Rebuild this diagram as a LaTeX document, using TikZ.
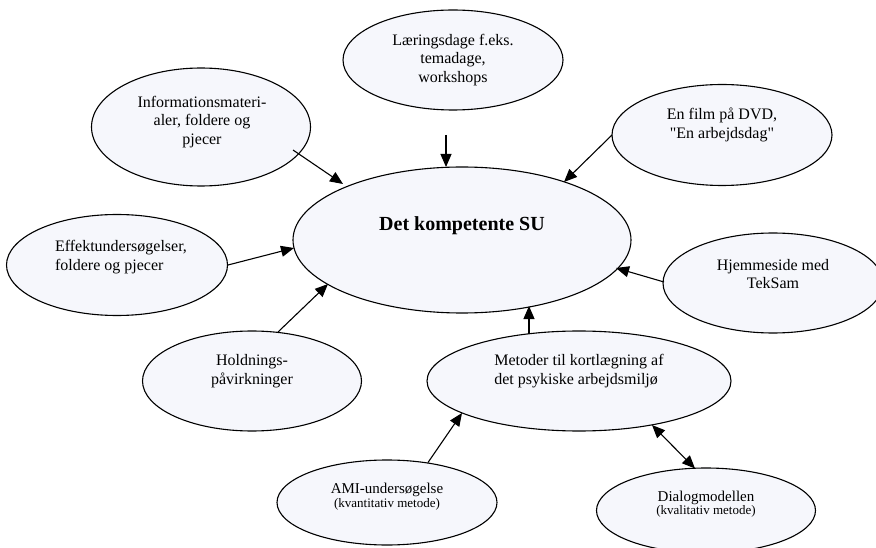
\documentclass[tikz,border=0pt]{standalone}
\usepackage{fontspec}
\setmainfont{Liberation Serif}
\newfontfamily\plainserif{Liberation Serif}
\usetikzlibrary{shapes.geometric,arrows.meta,calc}
\definecolor{blobfill}{RGB}{246,247,252}
\begin{document}
\begin{tikzpicture}[x=1pt,y=-1pt,
  blob/.style={ellipse,draw,line width=1.1pt,fill=blobfill,inner sep=0pt,outer sep=0pt},
  lbl/.style={align=center,font=\fontsize{16}{18.5}\selectfont,inner sep=0pt},
  lbll/.style={align=left,font=\fontsize{16}{18.5}\selectfont,inner sep=0pt},
  arr/.style={line width=1.1pt,-{Triangle[length=13pt,width=11pt]}},
  arrboth/.style={line width=1.1pt,{Triangle[length=13pt,width=11pt]}-{Triangle[length=13pt,width=11pt]}}]
\useasboundingbox (0,0) rectangle (876,548);
\fill[white] (0,0) rectangle (876,548);
% ellipses
\node[blob,minimum width=338pt,minimum height=146pt] (su) at (462,240) {};
\node[blob,minimum width=220pt,minimum height=100pt] (lar) at (453,60) {};
\node[blob,minimum width=219pt,minimum height=118pt] (info) at (201,127) {};
\node[blob,minimum width=220pt,minimum height=101pt] (film) at (722,135) {};
\node[blob,minimum width=221pt,minimum height=101pt] (eff) at (117,265) {};
\node[blob,minimum width=220pt,minimum height=100pt] (hjem) at (773,283) {};
\node[blob,minimum width=219pt,minimum height=100pt] (hold) at (252,381) {};
\node[blob,minimum width=304pt,minimum height=100pt] (met) at (579,381) {};
\node[blob,minimum width=220pt,minimum height=85pt] (ami) at (387,502.5) {};
\node[blob,minimum width=219pt,minimum height=85pt] (dia) at (706,510.5) {};
% texts
\node[font=\bfseries\fontsize{20}{24}\selectfont,inner sep=0pt] (sut) at ($(su)+(0,-14)$) {Det kompetente SU};
\node[lbl] (lart) at ($(lar)+(0,0)$) {Læringsdage f.eks.\\temadage,\\workshops};
\node[lbl] (infot) at ($(info)+(1,-5)$) {Informationsmateri-\\aler, foldere og\\pjecer};
\node[lbl] (filmt) at ($(film)+(0,-10)$) {En film på DVD,\\{\plainserif"}En arbejdsdag{\plainserif"}};
\node[lbll] (efft) at ($(eff)+(4,-8)$) {Effektundersøgelser,\\foldere og pjecer};
\node[lbl] (hjemt) at ($(hjem)+(0,-9)$) {Hjemmeside med\\TekSam};
\node[lbl] (holdt) at ($(hold)+(0,-10)$) {Holdnings-\\påvirkninger};
\node[lbll] (mett) at ($(met)+(0,-10)$) {Metoder til kortlægning af\\det psykiske arbejdsmiljø};
\node[align=center,inner sep=0pt] (amit) at ($(ami)+(0,-6)$) {\fontsize{15}{17}\selectfont AMI-undersøgelse\\[1pt]\fontsize{13}{15}\selectfont (kvantitativ metode)};
\node[align=center,inner sep=0pt] (diat) at ($(dia)+(0,-6)$) {\fontsize{15}{17}\selectfont Dialogmodellen\\[0pt]\fontsize{13}{15}\selectfont (kvalitativ metode)};
% connectors
\draw[arr] ($(info)+(92,23)$) -- ($(su)+(-119,-56)$);
\draw[arr] ($(lar)+(-7,75)$) -- ($(su)+(-16,-73)$);
\draw[arr] ($(film)+(-110,0)$) -- ($(su)+(102,-58)$);
\draw[arr] ($(eff)+(111,0)$) -- ($(su)+(-168,8)$);
\draw[arr] ($(hold)+(26,-49)$) -- ($(su)+(-134,44)$);
\draw[arr] ($(hjem)+(-109,-1)$) -- ($(su)+(154,28)$);
\draw[arr] ($(met)+(-50,-47)$) -- ($(su)+(67,66)$);
\draw[arr] ($(ami)+(41,-40)$) -- ($(met)+(-117,32)$);
\draw[arrboth] ($(met)+(73,44)$) -- ($(dia)+(-11,-42)$);
\end{tikzpicture}
\end{document}
